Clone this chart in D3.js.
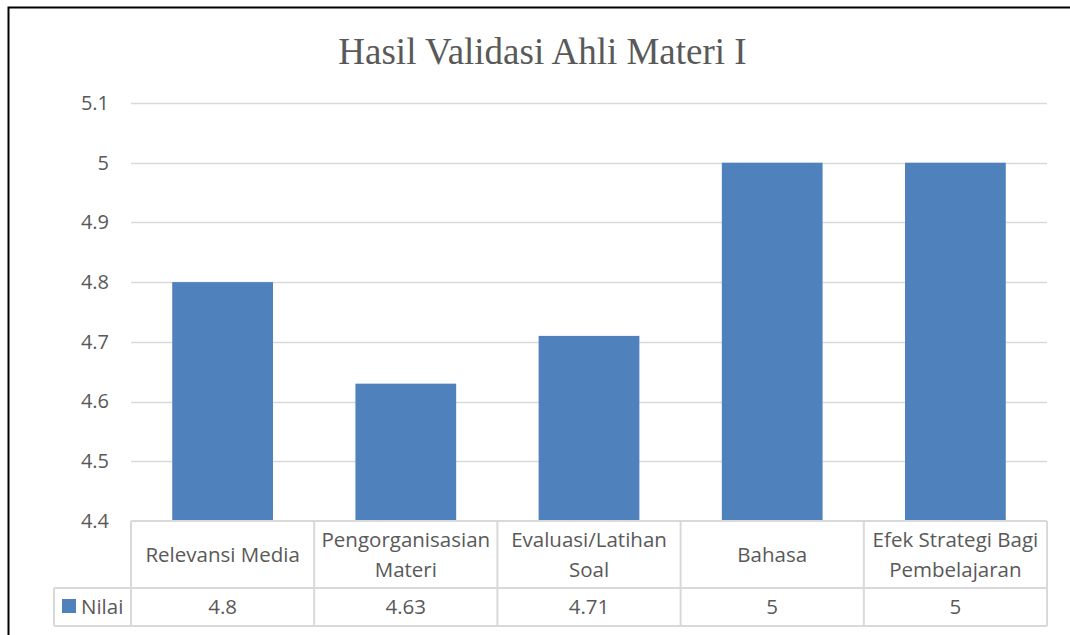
<!DOCTYPE html>
<html>
<head>
<meta charset="utf-8">
<script src="https://cdn.jsdelivr.net/npm/d3@7"></script>
<style>
body { margin: 0; background: #fff; }
svg { display: block; }
</style>
</head>
<body>
<div id="chart"></div>
<script>
var categories = [["Relevansi Media"], ["Pengorganisasian", "Materi"], ["Evaluasi/Latihan", "Soal"], ["Bahasa"], ["Efek Strategi Bagi", "Pembelajaran"]];
var values = [4.8, 4.63, 4.71, 5, 5];
var valueLabels = ["4.8", "4.63", "4.71", "5", "5"];
var yTicks = [4.4, 4.5, 4.6, 4.7, 4.8, 4.9, 5, 5.1];
var seriesName = "Nilai";
var title = "Hasil Validasi Ahli Materi I";

var W = 1070, H = 635;
var plotLeft = 131, plotRight = 1047, plotTop = 103, plotBottom = 521;
var rowSplit = 588, tableBottom = 626, legendLeft = 54;
var font = "'Open Sans', sans-serif";
var fontSize = 20.5;
var textColor = "#595959", gridColor = "#D9D9D9", barColor = "#4F81BD";

var svg = d3.select("#chart").append("svg")
	.attr("width", W)
	.attr("height", H);

// outer frame
svg.append("rect")
	.attr("x", 8.5).attr("y", 7.5)
	.attr("width", 1080).attr("height", 700)
	.attr("fill", "none")
	.attr("stroke", "#000")
	.attr("stroke-width", 2);

svg.append("text")
	.attr("x", 542.5)
	.attr("y", 64)
	.attr("text-anchor", "middle")
	.attr("font-family", "'Liberation Serif', 'Times New Roman', serif")
	.attr("font-size", 37)
	.attr("fill", textColor)
	.text(title);

var x = d3.scaleBand()
	.domain(d3.range(values.length))
	.range([plotLeft, plotRight])
	.paddingInner(0.45)
	.paddingOuter(0.225);

var cols = d3.scaleBand()
	.domain(d3.range(values.length))
	.range([plotLeft, plotRight]);

var y = d3.scaleLinear()
	.domain([4.4, 5.1])
	.range([plotBottom, plotTop]);

// gridlines
svg.append("g")
	.selectAll("line")
	.data(yTicks.slice(1))
	.enter().append("line")
	.attr("x1", plotLeft).attr("x2", plotRight)
	.attr("y1", function(d) { return Math.round(y(d)) + 0.5; })
	.attr("y2", function(d) { return Math.round(y(d)) + 0.5; })
	.attr("stroke", gridColor)
	.attr("stroke-width", 1.5);

// y axis labels
var yAxis = d3.axisLeft(y).tickValues(yTicks).tickSize(0).tickPadding(0)
	.tickFormat(function(d) { return d3.format("")(+d.toFixed(1)); });
var ga = svg.append("g")
	.attr("transform", "translate(" + (plotLeft - 22) + ",0)")
	.call(yAxis);
ga.select(".domain").remove();
ga.selectAll("text")
	.attr("font-family", font)
	.attr("font-size", 20)
	.attr("fill", textColor);

// bars
svg.append("g")
	.selectAll("rect")
	.data(values)
	.enter().append("rect")
	.attr("x", function(d, i) { return x(i); })
	.attr("width", x.bandwidth())
	.attr("y", function(d) { return y(d); })
	.attr("height", function(d) { return plotBottom - y(d); })
	.attr("fill", barColor);

// data table
var tbl = svg.append("g")
	.attr("stroke", gridColor)
	.attr("stroke-width", 2)
	.attr("fill", "none");
tbl.append("line").attr("x1", plotLeft).attr("x2", plotRight).attr("y1", plotBottom).attr("y2", plotBottom);
tbl.append("line").attr("x1", legendLeft).attr("x2", plotRight).attr("y1", rowSplit).attr("y2", rowSplit);
tbl.append("line").attr("x1", legendLeft).attr("x2", plotRight).attr("y1", tableBottom).attr("y2", tableBottom);
tbl.append("line").attr("x1", legendLeft).attr("x2", legendLeft).attr("y1", rowSplit).attr("y2", tableBottom);
tbl.selectAll(".vline")
	.data(d3.range(values.length + 1))
	.enter().append("line")
	.attr("class", "vline")
	.attr("x1", function(i) { return i < values.length ? cols(i) : plotRight; })
	.attr("x2", function(i) { return i < values.length ? cols(i) : plotRight; })
	.attr("y1", plotBottom).attr("y2", tableBottom);

// category labels
var catText = svg.append("g")
	.selectAll("text")
	.data(categories)
	.enter().append("text")
	.attr("text-anchor", "middle")
	.attr("font-family", font)
	.attr("font-size", fontSize)
	.attr("fill", textColor)
	.attr("transform", function(d, i) {
		var cy = 562 - (d.length - 1) * 15;
		return "translate(" + (cols(i) + cols.bandwidth() / 2) + "," + cy + ")";
	});
catText.selectAll("tspan")
	.data(function(d) { return d; })
	.enter().append("tspan")
	.attr("x", 0)
	.attr("dy", function(d, j) { return j === 0 ? 0 : 30; })
	.text(function(d) { return d; });

// values row
svg.append("g")
	.selectAll("text")
	.data(valueLabels)
	.enter().append("text")
	.attr("x", function(d, i) { return cols(i) + cols.bandwidth() / 2; })
	.attr("y", 614)
	.attr("text-anchor", "middle")
	.attr("font-family", font)
	.attr("font-size", fontSize)
	.attr("fill", textColor)
	.text(function(d) { return d; });

// legend key
svg.append("rect")
	.attr("x", 62).attr("y", 599)
	.attr("width", 14).attr("height", 14)
	.attr("fill", barColor);
svg.append("text")
	.attr("x", 81)
	.attr("y", 614)
	.attr("font-family", font)
	.attr("font-size", fontSize)
	.attr("fill", textColor)
	.text(seriesName);
</script>
</body>
</html>
